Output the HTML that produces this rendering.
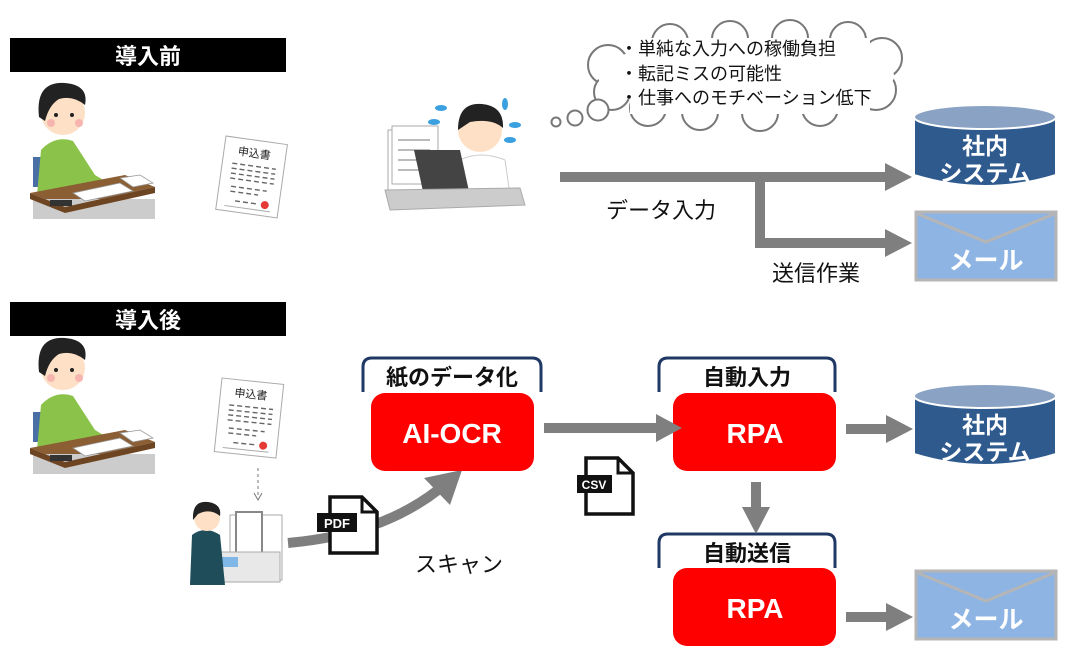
<!DOCTYPE html>
<html><head><meta charset="utf-8"><style>
html,body{margin:0;padding:0;background:#fff;}
svg{display:block;font-family:"Liberation Sans","Noto Sans CJK JP",sans-serif;}
.b{font-weight:bold;}
</style></head><body>
<svg width="1070" height="653" viewBox="0 0 1070 653" xmlns="http://www.w3.org/2000/svg">
<defs>
<g id="person">
  <rect x="8" y="82" width="10" height="30" fill="#4a6fa5"/>
  <path d="M12 120 L16 75 Q30 60 48 66 L70 100 L90 112 L60 122 Z" fill="#8bc34a"/>
  <circle cx="38" cy="38" r="22" fill="#fde0c5"/>
  <path d="M14 42 Q10 6 40 8 Q64 10 60 30 Q48 20 34 24 Q24 30 20 46 Z" fill="#222"/>
  <circle cx="31" cy="40" r="2" fill="#222"/><circle cx="47" cy="40" r="2" fill="#222"/>
  <circle cx="26" cy="48" r="4" fill="#f7b5b0"/><circle cx="54" cy="48" r="4" fill="#f7b5b0"/>
  <path d="M5 118 L100 100 L130 112 L40 132 Z" fill="#8b5e34"/>
  <rect x="8" y="124" width="122" height="20" fill="#ccc"/>
  <path d="M5 118 L40 132 L130 112 L130 118 L40 138 L5 124 Z" fill="#6d4522"/>
  <path d="M48 118 L95 108 L108 116 L60 126 Z" fill="#fff" stroke="#999" stroke-width="0.8"/>
  <path d="M95 103 L115 100 L128 108 L108 112 Z" fill="#fff" stroke="#999" stroke-width="0.8"/>
  <rect x="25" y="125" width="22" height="6" fill="#333"/>
</g>
<g id="doc">
  <rect x="0" y="0" width="62" height="74" fill="#fff" stroke="#aaa" stroke-width="1"/>
  <text x="14" y="17" font-size="11" fill="#222">申込書</text>
  <g stroke="#666" stroke-width="1.4" stroke-dasharray="5 3">
    <line x1="10" y1="26" x2="54" y2="26"/><line x1="10" y1="31" x2="54" y2="31"/>
    <line x1="10" y1="36" x2="54" y2="36"/><line x1="10" y1="41" x2="54" y2="41"/>
    <line x1="12" y1="49" x2="48" y2="49"/><line x1="12" y1="54" x2="40" y2="54"/>
    <line x1="18" y1="63" x2="40" y2="63"/>
  </g>
  <circle cx="48" cy="63" r="4" fill="#e53935"/>
  <line x1="8" y1="69" x2="54" y2="69" stroke="#aaa"/>
</g>
<g id="db">
  <path d="M0 12 L0 70 Q71 92 142 70 L142 12 Z" fill="#2f5a8e" stroke="#fff" stroke-width="2"/>
  <ellipse cx="71" cy="12" rx="71" ry="12" fill="#8aa2c4" stroke="#fff" stroke-width="2"/>
  <text x="71" y="49" font-size="23" fill="#fff" text-anchor="middle" class="b">社内</text>
  <text x="71" y="76" font-size="23" fill="#fff" text-anchor="middle" class="b">システム</text>
</g>
<g id="mail">
  <rect x="0" y="0" width="140" height="68" fill="#8eb4e3" stroke="#b5b5b5" stroke-width="3"/>
  <polyline points="2,2 70,30 138,2" fill="none" stroke="#b5b5b5" stroke-width="3"/>
  <text x="70" y="57" font-size="25" fill="#fff" text-anchor="middle" class="b">メール</text>
</g>
<g id="file">
  <path d="M8 0 L40 0 L55 15 L55 56 L8 56 Z" fill="#fff" stroke="#111" stroke-width="3.5"/>
  <path d="M40 0 L40 15 L55 15" fill="none" stroke="#111" stroke-width="3"/>
</g>
</defs>

<rect x="10" y="38" width="276" height="34" fill="#000"/>
<text x="148" y="64" font-size="22" fill="#fff" text-anchor="middle" class="b">導入前</text>
<rect x="10" y="302" width="276" height="34" fill="#000"/>
<text x="148" y="328" font-size="22" fill="#fff" text-anchor="middle" class="b">導入後</text>

<use href="#person" x="25" y="75"/>
<use href="#person" x="25" y="330"/>
<use href="#doc" transform="translate(226,136) rotate(8)"/>
<use href="#doc" transform="translate(222,378) rotate(6)"/>

<g>
  <rect x="388" y="130" width="50" height="60" fill="#fff" stroke="#aaa"/>
  <rect x="392" y="126" width="46" height="58" fill="#fff" stroke="#aaa"/>
  <g stroke="#bbb" stroke-width="2"><line x1="398" y1="140" x2="430" y2="140"/><line x1="398" y1="150" x2="430" y2="150"/><line x1="398" y1="160" x2="430" y2="160"/><line x1="398" y1="170" x2="430" y2="170"/></g>
  <path d="M455 195 L460 160 Q480 150 505 160 L510 195 Z" fill="#fff" stroke="#ccc"/>
  <circle cx="480" cy="130" r="22" fill="#fde0c5"/>
  <path d="M458 130 Q458 102 482 104 Q504 106 503 128 Q492 118 470 122 Z" fill="#222"/>
  <path d="M424 196 L414 150 L460 150 L470 196 Z" fill="#444"/>
  <path d="M385 190 L520 188 L525 205 L390 210 Z" fill="#ccc" stroke="#aaa"/>
  <g fill="#3aa0e0"><ellipse cx="441" cy="108" rx="6" ry="3"/><ellipse cx="434" cy="122" rx="6" ry="3"/><ellipse cx="505" cy="104" rx="3" ry="6"/><ellipse cx="515" cy="125" rx="6" ry="3"/><ellipse cx="510" cy="140" rx="6" ry="3"/></g>
</g>

<!-- cloud -->
<g fill="#fff" stroke="#777" stroke-width="2">
  <circle cx="608" cy="65" r="20"/><circle cx="612" cy="92" r="18"/><circle cx="648" cy="108" r="18"/>
  <circle cx="700" cy="112" r="18"/><circle cx="760" cy="113" r="18"/><circle cx="820" cy="108" r="18"/>
  <circle cx="876" cy="90" r="20"/><circle cx="882" cy="58" r="20"/><circle cx="848" cy="40" r="18"/>
  <circle cx="790" cy="38" r="18"/><circle cx="730" cy="39" r="18"/><circle cx="670" cy="42" r="18"/>
  <circle cx="556" cy="122" r="4.5"/><circle cx="575" cy="118" r="7.5"/><circle cx="598" cy="110" r="10.5"/>
</g>
<ellipse cx="746" cy="76" rx="148" ry="38" fill="#fff"/>
<rect x="630" y="38" width="240" height="76" fill="#fff"/>
<g font-size="18" fill="#111">
  <text x="620" y="55">・単純な入力への稼働負担</text>
  <text x="620" y="80">・転記ミスの可能性</text>
  <text x="620" y="104">・仕事へのモチベーション低下</text>
</g>

<g fill="#7f7f7f">
  <rect x="560" y="172" width="330" height="10"/>
  <polygon points="885,163 912,177 885,191"/>
  <rect x="755" y="172" width="10" height="76"/>
  <rect x="755" y="238" width="135" height="10"/>
  <polygon points="885,229 912,243 885,257"/>
</g>
<text x="606" y="218" font-size="22" fill="#111">データ入力</text>
<text x="772" y="281" font-size="22" fill="#111">送信作業</text>
<use href="#db" x="914" y="105"/>
<use href="#mail" x="916" y="212"/>

<line x1="258" y1="468" x2="258" y2="498" stroke="#777" stroke-width="1" stroke-dasharray="3 3"/>
<polyline points="254,493 258,500 262,493" fill="none" stroke="#777"/>
<g>
  <rect x="230" y="515" width="52" height="65" fill="#fff" stroke="#aaa"/>
  <rect x="236" y="512" width="26" height="42" fill="#fff" stroke="#888" stroke-width="2"/>
  <rect x="195" y="552" width="85" height="30" fill="#e8e8e8" stroke="#aaa"/>
  <rect x="212" y="557" width="26" height="10" fill="#7fb7e6"/>
  <path d="M190 585 L192 535 Q205 525 220 535 L225 585 Z" fill="#1f4e5a"/>
  <circle cx="207" cy="518" r="13" fill="#fde0c5"/>
  <path d="M193 520 Q192 500 208 502 Q222 504 220 516 Q210 508 198 514 Z" fill="#222"/>
</g>
<path d="M288 543 Q380 535 438 490" fill="none" stroke="#7f7f7f" stroke-width="10"/>
<polygon points="424,478 462,470 450,505" fill="#7f7f7f"/>
<use href="#file" x="322" y="497"/>
<rect x="317" y="513" width="40" height="19" fill="#111"/>
<text x="337" y="528" font-size="13" fill="#fff" text-anchor="middle" class="b">PDF</text>
<text x="415" y="572" font-size="22" fill="#111">スキャン</text>

<g fill="#fff" stroke="#1f3864" stroke-width="3">
  <path d="M363 392 L363 367 Q363 358 372 358 L532 358 Q541 358 541 367 L541 392"/>
  <path d="M659 392 L659 367 Q659 358 668 358 L826 358 Q835 358 835 367 L835 392"/>
  <path d="M659 568 L659 543 Q659 534 668 534 L826 534 Q835 534 835 543 L835 568"/>
</g>
<g font-size="22" fill="#111" text-anchor="middle" class="b">
  <text x="452" y="385">紙のデータ化</text>
  <text x="747" y="385">自動入力</text>
  <text x="747" y="561">自動送信</text>
</g>
<g fill="#ff0000">
  <rect x="371" y="393" width="163" height="78" rx="14"/>
  <rect x="673" y="393" width="163" height="78" rx="14"/>
  <rect x="673" y="568" width="163" height="78" rx="14"/>
</g>
<g font-size="28" fill="#fff" text-anchor="middle" class="b">
  <text x="452" y="443">AI-OCR</text>
  <text x="755" y="443">RPA</text>
  <text x="755" y="618">RPA</text>
</g>
<g fill="#7f7f7f">
  <rect x="544" y="423" width="118" height="10"/>
  <polygon points="656,414 682,428 656,442"/>
  <rect x="751" y="482" width="10" height="30"/>
  <polygon points="742,507 770,507 756,534"/>
  <rect x="846" y="424" width="45" height="10"/>
  <polygon points="886,415 913,429 886,443"/>
  <rect x="846" y="612" width="45" height="10"/>
  <polygon points="886,603 913,617 886,631"/>
</g>
<use href="#file" x="578" y="458"/>
<rect x="577" y="475" width="35" height="18" fill="#111"/>
<text x="594" y="489" font-size="12" fill="#fff" text-anchor="middle" class="b">CSV</text>
<use href="#db" x="914" y="384"/>
<use href="#mail" x="916" y="571"/>
</svg>
</body></html>
